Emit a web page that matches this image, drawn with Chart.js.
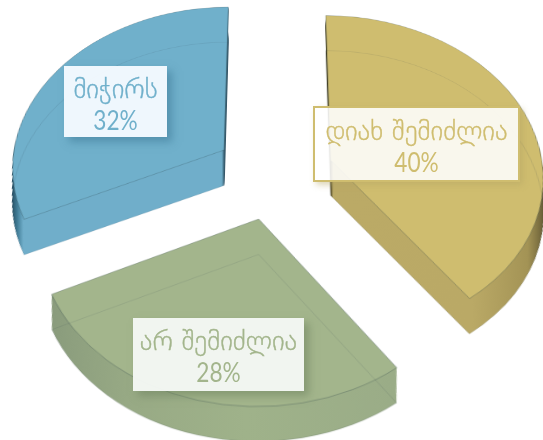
<!DOCTYPE html>
<html>
<head>
<meta charset="utf-8">
<script src="https://cdn.jsdelivr.net/npm/chart.js@4"></script>
<style>
  html, body { margin: 0; padding: 0; width: 543px; height: 440px; overflow: hidden; background: #fff; }
  #wrap { position: relative; width: 543px; height: 440px; overflow: hidden; }
  /* flat pie is tilted back with a real perspective, pivot is the pie centre */
  #pie { position: absolute; left: -126px; top: -226px; transform-origin: 50% 50%; transform: perspective(1478px) rotateX(41deg); }
  .lbl { position: absolute; box-sizing: border-box; text-align: center; font-family: "Lato", "DejaVu Sans", sans-serif; font-size: 27px; line-height: 31px; padding-top: 6px; white-space: nowrap; }
  .lbl .nm { font-family: "DejaVu Sans", sans-serif; font-size: 27px; font-weight: 200; -webkit-text-stroke: 0.4px currentColor; }
  .lbl .pc { display: inline-block; transform: scaleX(0.84); }
</style>
</head>
<body>
<div id="wrap">
  <canvas id="pie" width="800" height="800"></canvas>
</div>
<script>
var categories = ['დიახ შემიძლია', 'არ შემიძლია', 'მიჭირს'];
var values = [40, 28, 32];

var faceColors = ['#cfbd6f', '#a3b58c', '#70b0cb'];
var explode = 60;      // how far each slice is pulled from the centre
var depth = 46;        // thickness in flat px

// wall shading, left to right across the slice (before it is pulled out)
var wallShades = [
  { from: 400, to: 613, stops: [[0, '#4a4424'], [0.012, '#bbaa66'], [0.6, '#baa966'], [0.88, '#a39355'], [1, '#5f5632']] },
  { from: 187, to: 526, stops: [[0, '#86987a'], [0.3, '#98aa85'], [0.6, '#9fb28a'], [1, '#9aac87']] },
  { from: 187, to: 401, stops: [[0, '#24485a'], [0.05, '#3f7a94'], [0.09, '#70aeca'], [0.985, '#70aeca'], [1, '#1f3d4d']] }
];

// label boxes are plain page positions
var boxes = [
  { x: 313, y: 106, w: 207, h: 76, bg: 'rgba(255,255,255,0.88)', border: '2px solid #cfbd6f', shadow: '3px 3px 6px rgba(180,165,100,0.45)' },
  { x: 133, y: 318, w: 171, h: 73, bg: 'rgba(246,249,245,0.95)', border: 'none', shadow: '5px 5px 8px rgba(110,130,95,0.55)' },
  { x: 64, y: 66, w: 103, h: 71, bg: 'rgba(244,249,254,0.97)', border: 'none', shadow: '5px 5px 8px rgba(60,120,150,0.55)' }
];

function withOptions(arc, extra, fn) {
  var keep = arc.options;
  arc.options = Object.assign({}, keep, extra);
  fn();
  arc.options = keep;
}

var slice3d = {
  id: 'slice3d',
  beforeDatasetDraw: function (chart, args) {
    var ctx = chart.ctx;
    var arcs = args.meta.data;
    arcs.forEach(function (arc, i) {
      var mid = (arc.startAngle + arc.endAngle) / 2;
      var shade = wallShades[i];
      var grad = ctx.createLinearGradient(shade.from, 0, shade.to, 0);
      shade.stops.forEach(function (s) { grad.addColorStop(s[0], s[1]); });

      function layer(t, fn) {
        ctx.save();
        ctx.translate(arc.x, arc.y + depth * t);
        ctx.scale(1 - 0.02 * t, 1 - 0.04 * t);
        ctx.translate(-arc.x, -arc.y);
        ctx.translate(Math.cos(mid) * explode, Math.sin(mid) * explode);
        fn();
        ctx.restore();
      }

      // wall: the slice stacked from the bottom up
      for (var k = depth; k > 0; k--) {
        layer(k / depth, function () {
          withOptions(arc, { backgroundColor: grad, borderWidth: 0 }, function () { arc.draw(ctx); });
        });
      }
      // top face
      layer(0, function () {
        withOptions(arc, { borderColor: 'rgba(40,60,70,0.28)', borderWidth: 1, borderAlign: 'center' }, function () { arc.draw(ctx); });
      });
      // bottom face seen through the slice
      layer(1, function () {
        withOptions(arc, { backgroundColor: 'rgba(0,0,0,0)', borderColor: 'rgba(40,60,70,0.13)', borderWidth: 1, borderAlign: 'center' }, function () { arc.draw(ctx); });
      });
    });
    return false;
  }
};

new Chart(document.getElementById('pie'), {
  type: 'pie',
  data: {
    labels: categories,
    datasets: [{ data: values, backgroundColor: faceColors, borderWidth: 0 }]
  },
  options: {
    responsive: false,
    animation: false,
    radius: 213,
    events: [],
    plugins: { legend: { display: false }, tooltip: { enabled: false } }
  },
  plugins: [slice3d]
});

// real text labels, drawn over the tilted canvas so they stay upright
var wrap = document.getElementById('wrap');
categories.forEach(function (name, i) {
  var b = boxes[i];
  var d = document.createElement('div');
  d.className = 'lbl';
  d.style.left = b.x + 'px';
  d.style.top = b.y + 'px';
  d.style.width = b.w + 'px';
  d.style.height = b.h + 'px';
  d.style.background = b.bg;
  d.style.border = b.border;
  d.style.boxShadow = b.shadow;
  d.style.color = faceColors[i];
  d.innerHTML = '<span class="nm">' + name + '</span><br><span class="pc">' + values[i] + '%</span>';
  wrap.appendChild(d);
});
</script>
</body>
</html>
